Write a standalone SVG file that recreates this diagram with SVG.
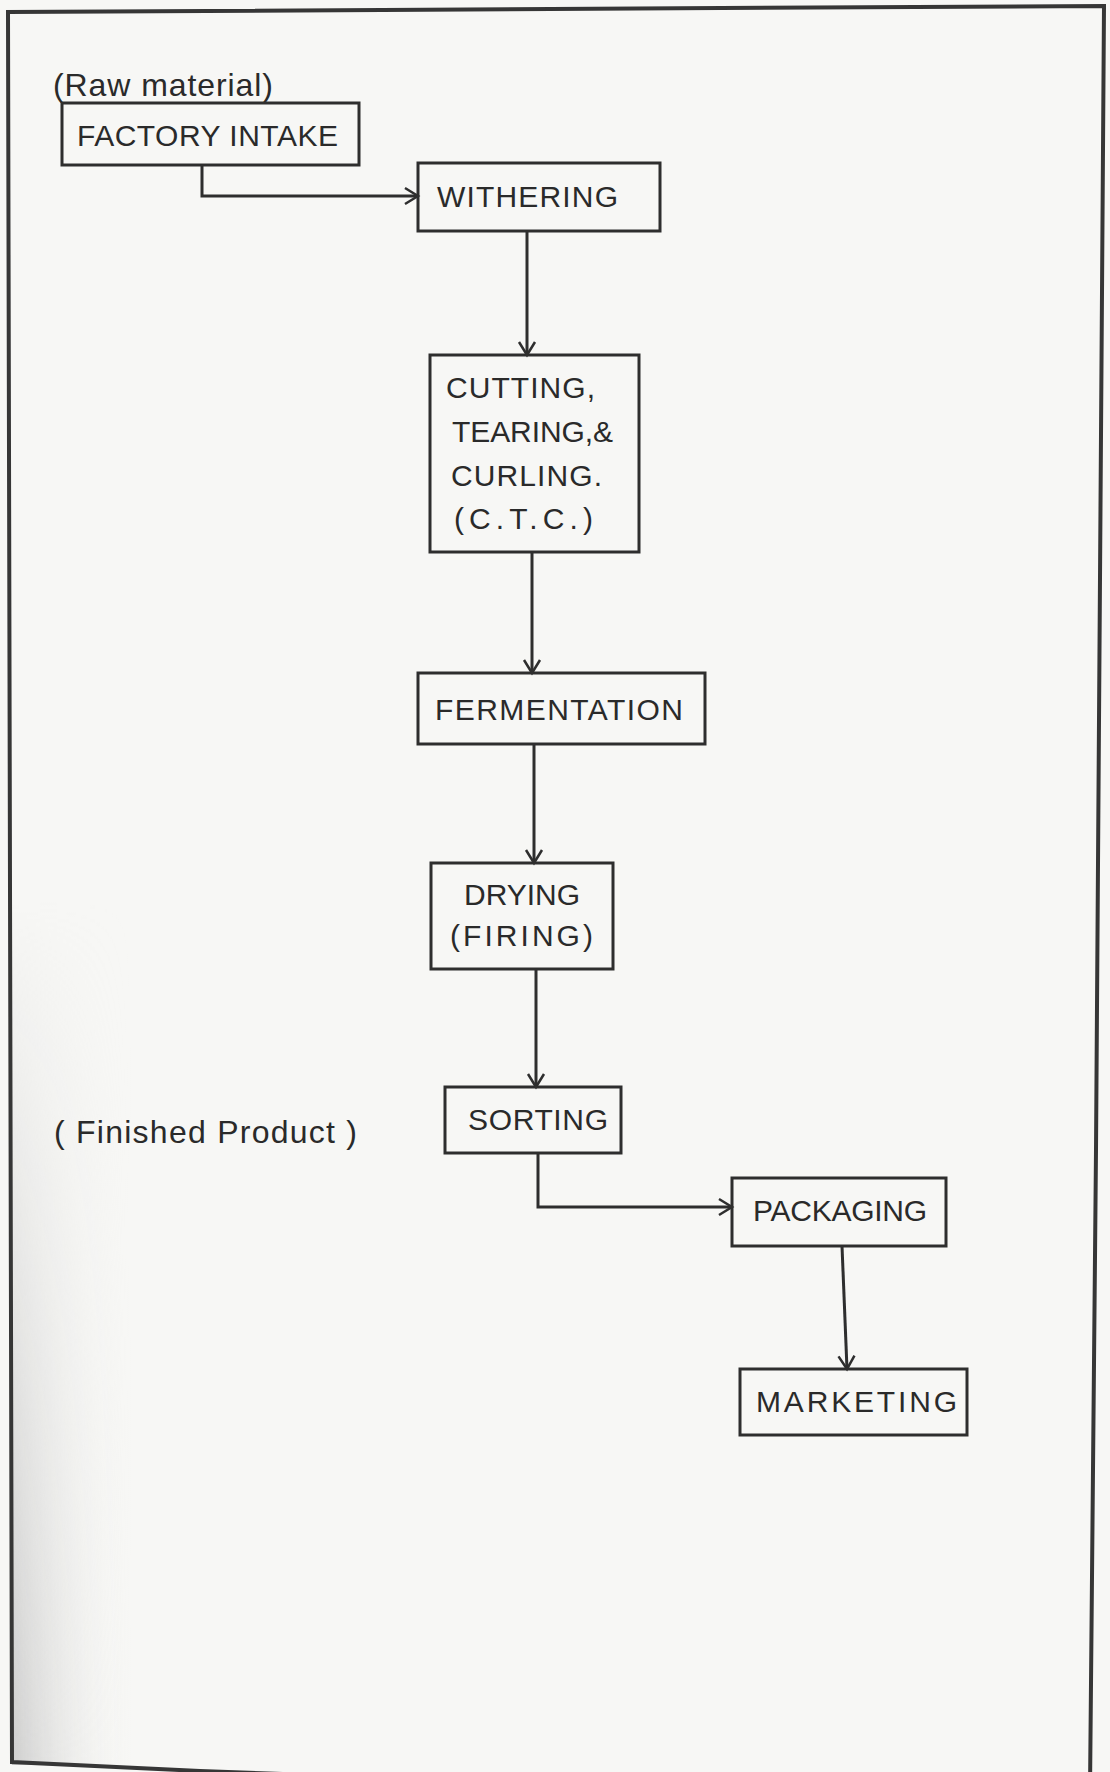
<svg xmlns="http://www.w3.org/2000/svg" width="1110" height="1772" viewBox="0 0 1110 1772">
<defs>
<style>
.box{fill:none;stroke:#2e2e2e;stroke-width:3}
.lbl{font-family:"Liberation Sans",Arial,sans-serif;font-size:30px;fill:#2a2a2a}
.note{font-family:"Liberation Sans",Arial,sans-serif;font-size:32px;fill:#2a2a2a}
.conn{fill:none;stroke:#2e2e2e;stroke-width:3}
</style>
<marker id="arr" markerUnits="userSpaceOnUse" markerWidth="20" markerHeight="20" refX="16" refY="10" orient="auto">
<path d="M3,2 L16,10 L3,18" fill="none" stroke="#2e2e2e" stroke-width="2.5"/>
</marker>
<linearGradient id="shade" x1="0" y1="0" x2="1" y2="0">
<stop offset="0" stop-color="#c4c4c4" stop-opacity="0.8"/>
<stop offset="1" stop-color="#f6f6f4" stop-opacity="0"/>
</linearGradient>
<linearGradient id="vfade" x1="0" y1="0" x2="0" y2="1">
<stop offset="0" stop-color="#fff" stop-opacity="0"/>
<stop offset="0.6" stop-color="#fff" stop-opacity="0.6"/>
<stop offset="1" stop-color="#fff" stop-opacity="1"/>
</linearGradient>
<mask id="m">
<rect x="0" y="900" width="140" height="872" fill="url(#vfade)"/>
</mask>
</defs>
<rect x="0" y="0" width="1110" height="1772" fill="#f7f7f5"/>
<rect x="12" y="900" width="120" height="865" fill="url(#shade)" mask="url(#m)"/>
<path d="M1090,1790 L1096,1150 L1104,6 L8,12 L12,1762 L200,1771 L1000,1800" fill="none" stroke="#363636" stroke-width="4"/>

<text class="note" x="53" y="96" textLength="220">(Raw material)</text>
<text class="note" x="54" y="1143" textLength="303">( Finished Product )</text>

<g id="factory-intake">
<rect class="box" x="62" y="103" width="297" height="62"/>
<text class="lbl" x="77" y="146" textLength="261">FACTORY INTAKE</text>
</g>
<g id="withering">
<rect class="box" x="418" y="163" width="242" height="68"/>
<text class="lbl" x="437" y="207" textLength="181">WITHERING</text>
</g>
<g id="ctc">
<rect class="box" x="430" y="355" width="209" height="197"/>
<text class="lbl" x="446" y="398" textLength="149">CUTTING,</text>
<text class="lbl" x="452" y="442" textLength="161">TEARING,&amp;</text>
<text class="lbl" x="451" y="486" textLength="151">CURLING.</text>
<text class="lbl" x="454" y="529" textLength="139">(C.T.C.)</text>
</g>
<g id="fermentation">
<rect class="box" x="418" y="673" width="287" height="71"/>
<text class="lbl" x="435" y="720" textLength="248">FERMENTATION</text>
</g>
<g id="drying">
<rect class="box" x="431" y="863" width="182" height="106"/>
<text class="lbl" x="464" y="905" textLength="116">DRYING</text>
<text class="lbl" x="450" y="946" textLength="143">(FIRING)</text>
</g>
<g id="sorting">
<rect class="box" x="445" y="1087" width="176" height="66"/>
<text class="lbl" x="468" y="1130" textLength="140">SORTING</text>
</g>
<g id="packaging">
<rect class="box" x="732" y="1178" width="214" height="68"/>
<text class="lbl" x="753" y="1221" textLength="174">PACKAGING</text>
</g>
<g id="marketing">
<rect class="box" x="740" y="1369" width="227" height="66"/>
<text class="lbl" x="756" y="1412" textLength="201">MARKETING</text>
</g>

<g id="connectors">
<path class="conn" d="M202,165 V196 H418" marker-end="url(#arr)"/>
<path class="conn" d="M527,231 V355" marker-end="url(#arr)"/>
<path class="conn" d="M532,552 V673" marker-end="url(#arr)"/>
<path class="conn" d="M534,744 V863" marker-end="url(#arr)"/>
<path class="conn" d="M536,969 V1087" marker-end="url(#arr)"/>
<path class="conn" d="M538,1153 V1207 H732" marker-end="url(#arr)"/>
<path class="conn" d="M842,1246 L847,1369" marker-end="url(#arr)"/>
</g>
</svg>
